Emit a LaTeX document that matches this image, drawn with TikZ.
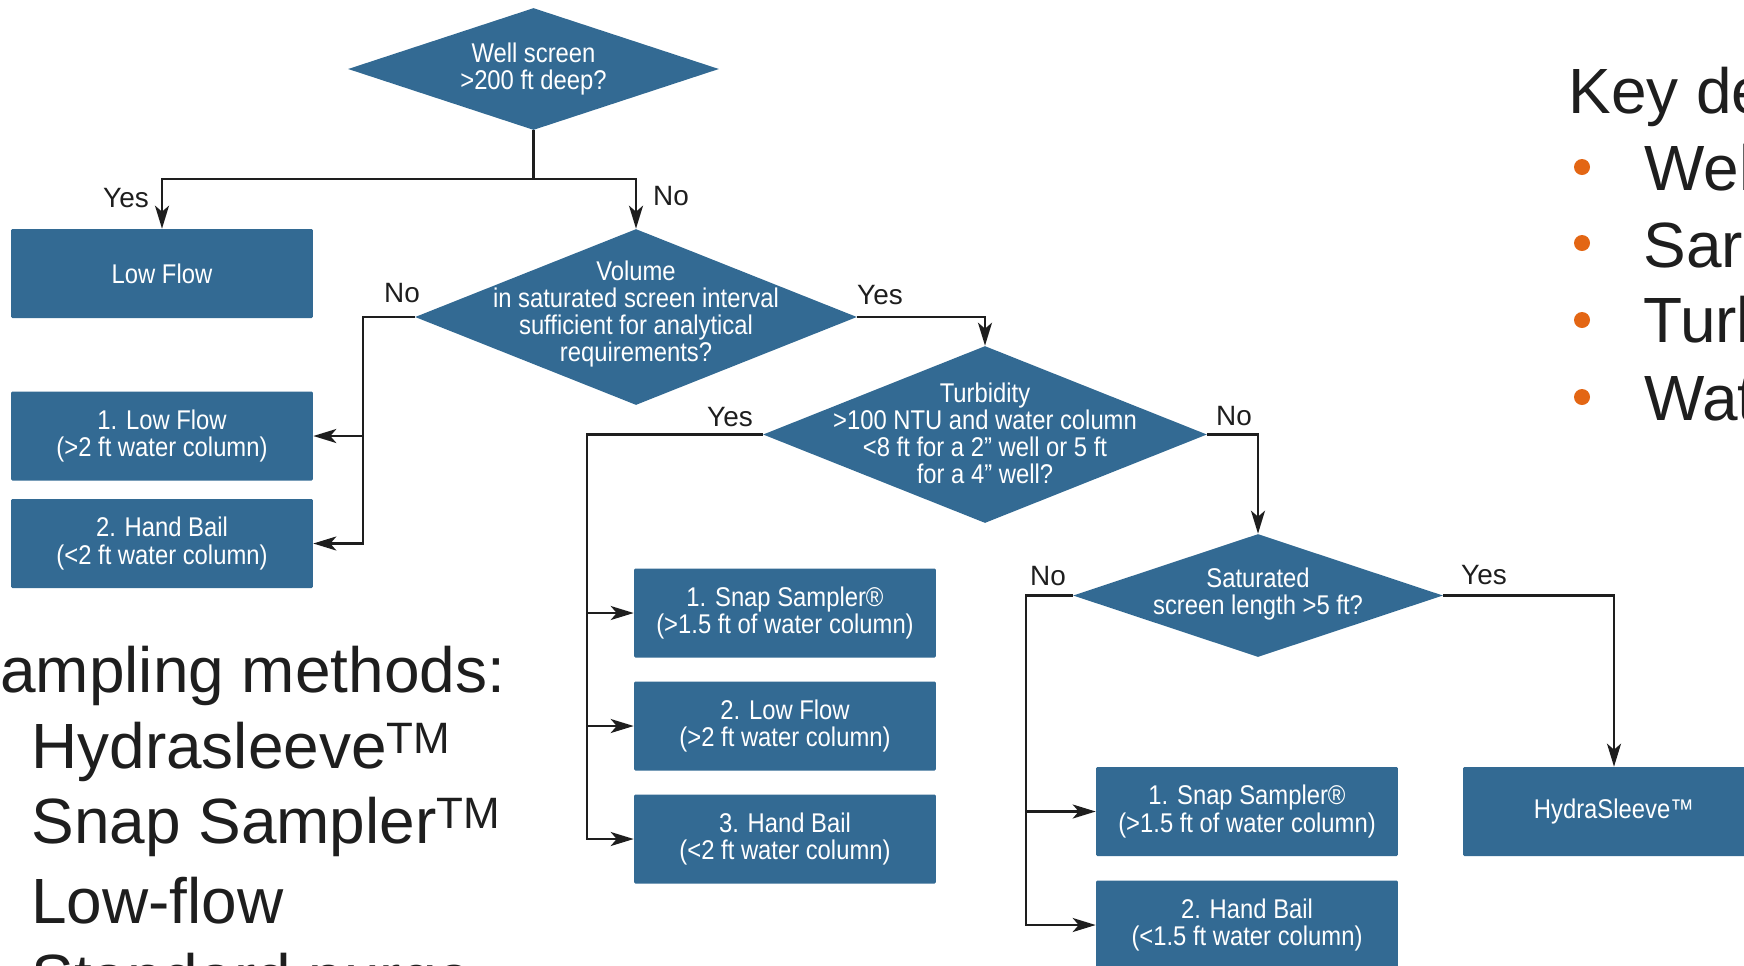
\documentclass[tikz,border=0pt]{standalone}
\usepackage{fontspec}
\setmainfont{Liberation Sans}
\newfontfamily\condf[FakeStretch=0.88]{Liberation Sans}
\usetikzlibrary{shapes.geometric,arrows.meta}
\definecolor{boxblue}{RGB}{51,106,147}
\definecolor{bulor}{RGB}{227,102,20}
\definecolor{ink}{RGB}{30,30,30}
\newcommand{\tmark}{\raisebox{8.2pt}{\fontsize{25}{25}\selectfont TM}}
\begin{document}
\begin{tikzpicture}[x=0.02cm,y=-0.02cm,
  box/.style={rectangle, fill=boxblue, rounded corners=0.8pt, minimum width=6.04cm, minimum height=1.78cm, inner sep=0pt, text=white, font=\condf\fontsize{15.4}{15.4}\selectfont, align=center},
  dia/.style={diamond, fill=boxblue, inner sep=0pt},
  dtxt/.style={text=white, font=\condf\fontsize{15.4}{15.4}\selectfont, align=center, inner sep=0pt},
  lab/.style={text=ink, font=\fontsize{15.9}{15.9}\selectfont, inner sep=0pt},
  line/.style={draw=ink, line width=1.3pt},
  conn/.style={draw=ink, line width=1.3pt, -{Stealth[length=0.46cm,width=0.28cm,inset=0.12cm]}},
  big/.style={text=ink, font=\fontsize{36.4}{36.4}\selectfont, inner sep=0pt, anchor=base west},
  bul/.style={circle, fill=bulor, inner sep=0pt, minimum size=0.32cm}
]
\useasboundingbox (0,0) rectangle (1744,965);

% decisions
\node[dia, minimum width=7.42cm, minimum height=2.44cm] (d1) at (533.5,69) {};
\node[dtxt] (d1t) at (d1.center) {Well screen\\>200 ft deep?};

\node[dia, minimum width=8.84cm, minimum height=3.52cm] (d2) at (636,317) {};
\node[dtxt] (d2t) at ([yshift=0.06cm]d2.center) {Volume\\in saturated screen interval\\sufficient for analytical\\requirements?};

\node[dia, minimum width=8.88cm, minimum height=3.54cm] (d3) at (985,434.5) {};
\node[dtxt] (d3t) at ([yshift=0.03cm]d3.center) {Turbidity\\>100 NTU and water column\\<8 ft for a 2” well or 5 ft\\for a 4” well?};

\node[dia, minimum width=7.40cm, minimum height=2.46cm] (d4) at (1258,595.5) {};
\node[dtxt] (d4t) at ([yshift=0.03cm]d4.center) {Saturated\\screen length >5 ft?};

% outcome boxes
\node[box] (lf) at (162,273.5) {Low Flow};
\node[box] (b1) at (162,436) {1. Low Flow\\(>2 ft water column)};
\node[box] (b2) at (162,543.5) {2. Hand Bail\\(<2 ft water column)};

\node[box] (c1) at (785,613) {1. Snap Sampler®\\(>1.5 ft of water column)};
\node[box] (c2) at (785,726) {2. Low Flow\\(>2 ft water column)};
\node[box] (c3) at (785,839) {3. Hand Bail\\(<2 ft water column)};

\node[box] (e1) at (1247,811.5) {1. Snap Sampler®\\(>1.5 ft of water column)};
\node[box] (e2) at (1247,925) {2. Hand Bail\\(<1.5 ft water column)};
\node[box] (hs) at (1614,811.5) {HydraSleeve™};

% junctions
\coordinate (j1) at (533.5,179);
\coordinate (jl) at (162,179);
\coordinate (jr) at (636,179);
\coordinate (k2) at (363,317);
\coordinate (k3) at (587,434.5);
\coordinate (k4) at (1026,595.5);

% connectors
\draw[line] (d1.south) -- (j1);
\draw[conn] (j1) -- (jl) -- (lf.north);
\draw[conn] (j1) -- (jr) -- (d2.north);
\draw[conn] (d2.west) -- (k2) |- (b1.east);
\draw[conn] (k2) |- (b2.east);
\draw[conn] (d2.east) -| (d3.north);
\draw[conn] (d3.west) -- (k3) |- (c1.west);
\draw[conn] (k3) |- (c2.west);
\draw[conn] (k3) |- (c3.west);
\draw[conn] (d3.east) -| (d4.north);
\draw[conn] (d4.west) -- (k4) |- (e1.west);
\draw[conn] (k4) |- (e2.west);
\draw[conn] (d4.east) -| (hs.north);

% labels
\node[lab] (l1) at (126,198) {Yes};
\node[lab] (l2) at (671,196) {No};
\node[lab] (l3) at (402,293) {No};
\node[lab] (l4) at (880,295) {Yes};
\node[lab] (l5) at (730,417) {Yes};
\node[lab] (l6) at (1234,416) {No};
\node[lab] (l7) at (1048,576) {No};
\node[lab] (l8) at (1484,575) {Yes};

% left text
\node[big] (s0) at (0,692) {ampling methods:};
\node[big] (s1) at (31,768) {Hydrasleeve\tmark};
\node[big] (s2) at (31,843) {Snap Sampler\tmark};
\node[big] (s3) at (31,923) {Low-flow};
\node[big] (s4) at (31,999) {Standard purge};

% right text
\node[big] (k0) at (1568,113) {Key de};
\node[bul] (u1) at (1582,167) {};
\node[bul] (u2) at (1582,243) {};
\node[bul] (u3) at (1582,320) {};
\node[bul] (u4) at (1582,397) {};
\node[big] (t1) at (1644,190) {Wel};
\node[big] (t2) at (1643,267) {Sar};
\node[big] (t3) at (1643,342) {Turl};
\node[big] (t4) at (1644,420) {Wat};
\end{tikzpicture}
\end{document}
